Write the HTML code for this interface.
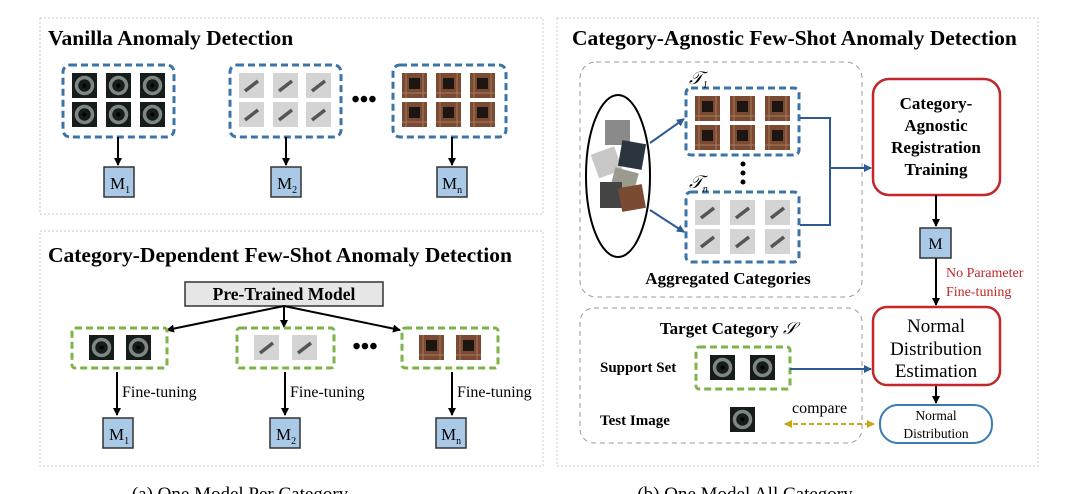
<!DOCTYPE html>
<html><head><meta charset="utf-8"><style>
html,body{margin:0;padding:0;background:#fff;width:1080px;height:494px;overflow:hidden}
text{font-family:"Liberation Serif",serif}
.b{font-weight:bold}
</style></head><body>
<svg width="1080" height="494" viewBox="0 0 1080 494" xmlns="http://www.w3.org/2000/svg">
<defs>
<marker id="ak" markerWidth="8" markerHeight="8" refX="7" refY="4" orient="auto" markerUnits="userSpaceOnUse"><path d="M0,0 L8,4 L0,8 z" fill="#000"/></marker>
<marker id="ab" markerWidth="8" markerHeight="8" refX="7" refY="4" orient="auto" markerUnits="userSpaceOnUse"><path d="M0,0 L8,4 L0,8 z" fill="#2e5a94"/></marker>
<marker id="ay" markerWidth="8" markerHeight="8" refX="7" refY="4" orient="auto-start-reverse" markerUnits="userSpaceOnUse"><path d="M0,0 L8,4 L0,8 z" fill="#c8a818"/></marker>
<g id="dk"><rect width="25" height="25" fill="#161c1c"/><circle cx="12.5" cy="12.5" r="8" fill="none" stroke="#7d8882" stroke-width="3.5"/><circle cx="12.5" cy="12.5" r="2" fill="#000"/></g>
<g id="gr"><rect width="25" height="25" fill="#d4d4d4"/><path d="M6,18 L19,8" stroke="#555" stroke-width="3.5"/></g>
<g id="br"><rect width="25" height="25" fill="#7b4a33"/><rect x="7" y="5" width="11" height="11" fill="#1c1512"/><path d="M0,20 H25 M4,0 V25 M21,0 V25" stroke="#a77a5e" stroke-width="1"/></g>
</defs>
<rect x="40" y="18" width="503" height="196" fill="none" stroke="#c8c8c8" stroke-dasharray="2,2"/>
<rect x="40" y="231" width="503" height="235" fill="none" stroke="#c8c8c8" stroke-dasharray="2,2"/>
<rect x="557" y="18" width="481" height="448" fill="none" stroke="#c8c8c8" stroke-dasharray="2,2"/>
<text x="48" y="45" class="b" font-size="21.5">Vanilla Anomaly Detection</text>
<text x="48" y="262" class="b" font-size="21.5">Category-Dependent Few-Shot Anomaly Detection</text>
<text x="572" y="45" class="b" font-size="21.5">Category-Agnostic Few-Shot Anomaly Detection</text>
<g fill="none" stroke="#3d74a8" stroke-width="3" stroke-dasharray="7,4">
<rect x="63" y="65" width="111" height="72" rx="7"/>
<rect x="230" y="65" width="111" height="72" rx="7"/>
<rect x="393" y="65" width="113" height="72" rx="7"/>
</g>
<g>
<use href="#dk" x="72" y="73"/><use href="#dk" x="106" y="73"/><use href="#dk" x="140" y="73"/>
<use href="#dk" x="72" y="102"/><use href="#dk" x="106" y="102"/><use href="#dk" x="140" y="102"/>
<use href="#gr" x="239" y="73"/><use href="#gr" x="273" y="73"/><use href="#gr" x="306" y="73"/>
<use href="#gr" x="239" y="102"/><use href="#gr" x="273" y="102"/><use href="#gr" x="306" y="102"/>
<use href="#br" x="402" y="73"/><use href="#br" x="436" y="73"/><use href="#br" x="470" y="73"/>
<use href="#br" x="402" y="102"/><use href="#br" x="436" y="102"/><use href="#br" x="470" y="102"/>
</g>
<text x="364" y="107" font-size="24" text-anchor="middle" class="b">•••</text>
<g stroke="#000" stroke-width="2" marker-end="url(#ak)">
<line x1="118" y1="137" x2="118" y2="165"/><line x1="286" y1="137" x2="286" y2="165"/><line x1="452" y1="137" x2="452" y2="165"/>
</g>
<g fill="#a9c9e6" stroke="#333" stroke-width="1.5">
<rect x="104" y="167" width="30" height="30"/><rect x="271" y="167" width="30" height="30"/><rect x="437" y="167" width="30" height="30"/>
<rect x="103" y="418" width="30" height="30"/><rect x="270" y="418" width="30" height="30"/><rect x="436" y="418" width="30" height="30"/>
</g>
<g font-size="17">
<text x="110" y="189">M<tspan font-size="10" dy="4">1</tspan></text>
<text x="277" y="189">M<tspan font-size="10" dy="4">2</tspan></text>
<text x="442" y="189">M<tspan font-size="10" dy="4">n</tspan></text>
<text x="109" y="440">M<tspan font-size="10" dy="4">1</tspan></text>
<text x="276" y="440">M<tspan font-size="10" dy="4">2</tspan></text>
<text x="441" y="440">M<tspan font-size="10" dy="4">n</tspan></text>
</g>
<rect x="185" y="282" width="198" height="24" fill="#e6e6e6" stroke="#333" stroke-width="1.5"/>
<text x="284" y="300" class="b" font-size="17.5" text-anchor="middle">Pre-Trained Model</text>
<g stroke="#000" stroke-width="2" marker-end="url(#ak)">
<line x1="284" y1="306" x2="167" y2="330"/><line x1="284" y1="306" x2="284" y2="327"/><line x1="284" y1="306" x2="400" y2="330"/>
<line x1="117" y1="372" x2="117" y2="415"/><line x1="285" y1="372" x2="285" y2="415"/><line x1="452" y1="372" x2="452" y2="415"/>
</g>
<g fill="none" stroke="#7db44a" stroke-width="3" stroke-dasharray="7,4">
<rect x="72" y="328" width="95" height="40" rx="3"/>
<rect x="237" y="328" width="97" height="40" rx="3"/>
<rect x="402" y="328" width="96" height="40" rx="3"/>
<rect x="696" y="347" width="94" height="42" rx="3"/>
</g>
<use href="#dk" x="89" y="335"/><use href="#dk" x="126" y="335"/>
<use href="#gr" x="254" y="335"/><use href="#gr" x="292" y="335"/>
<use href="#br" x="419" y="335"/><use href="#br" x="456" y="335"/>
<text x="365" y="354" font-size="24" text-anchor="middle" class="b">•••</text>
<g font-size="16"><text x="122" y="397">Fine-tuning</text><text x="290" y="397">Fine-tuning</text><text x="457" y="397">Fine-tuning</text></g>
<rect x="580" y="62" width="282" height="235" rx="16" fill="none" stroke="#9a9a9a" stroke-dasharray="5,4"/>
<rect x="580" y="308" width="282" height="135" rx="14" fill="none" stroke="#9a9a9a" stroke-dasharray="5,4"/>
<ellipse cx="618" cy="176" rx="32" ry="81" fill="none" stroke="#000" stroke-width="2"/>
<rect x="605" y="120" width="25" height="25" fill="#8a8a8a"/>
<rect x="594" y="150" width="25" height="25" fill="#c8c8c8" transform="rotate(-20 606 162)"/>
<rect x="620" y="142" width="24" height="26" fill="#2a3540" transform="rotate(10 632 155)"/>
<rect x="612" y="170" width="24" height="24" fill="#9a9a8e" transform="rotate(15 624 182)"/>
<rect x="600" y="182" width="22" height="26" fill="#444"/>
<rect x="620" y="186" width="24" height="24" fill="#7b4a33" transform="rotate(-10 632 198)"/>
<g fill="none" stroke="#3d74a8" stroke-width="3" stroke-dasharray="7,4">
<rect x="686" y="88" width="113" height="67" rx="5"/>
<rect x="686" y="192" width="113" height="70" rx="5"/>
</g>
<use href="#br" x="695" y="96"/><use href="#br" x="730" y="96"/><use href="#br" x="765" y="96"/>
<use href="#br" x="695" y="125"/><use href="#br" x="730" y="125"/><use href="#br" x="765" y="125"/>
<use href="#gr" x="695" y="200"/><use href="#gr" x="730" y="200"/><use href="#gr" x="765" y="200"/>
<use href="#gr" x="695" y="229"/><use href="#gr" x="730" y="229"/><use href="#gr" x="765" y="229"/>
<text x="689" y="84" font-size="18" font-style="italic">𝒯<tspan font-size="10" dy="4">1</tspan></text>
<text x="689" y="188" font-size="18" font-style="italic">𝒯<tspan font-size="10" dy="4">n</tspan></text>
<circle cx="743" cy="164" r="2.5"/><circle cx="743" cy="173" r="2.5"/><circle cx="743" cy="182" r="2.5"/>
<g stroke="#2e5a94" stroke-width="2" fill="none">
<line x1="650" y1="143" x2="684" y2="119" marker-end="url(#ab)"/>
<line x1="650" y1="210" x2="684" y2="232" marker-end="url(#ab)"/>
<polyline points="800,118 830,118 830,225 800,225"/>
<line x1="830" y1="168" x2="871" y2="168" marker-end="url(#ab)"/>
<line x1="790" y1="369" x2="871" y2="369" marker-end="url(#ab)"/>
</g>
<text x="728" y="284" class="b" font-size="17" text-anchor="middle">Aggregated Categories</text>
<rect x="873" y="79" width="127" height="116" rx="16" fill="none" stroke="#c0282a" stroke-width="2.5"/>
<g class="b" font-size="17" text-anchor="middle">
<text x="936" y="109">Category-</text><text x="936" y="131">Agnostic</text><text x="936" y="153">Registration</text><text x="936" y="175">Training</text>
</g>
<g stroke="#000" stroke-width="2" marker-end="url(#ak)">
<line x1="936" y1="195" x2="936" y2="226"/><line x1="936" y1="258" x2="936" y2="305"/><line x1="936" y1="385" x2="936" y2="403"/>
</g>
<rect x="920" y="228" width="31" height="30" fill="#a9c9e6" stroke="#333" stroke-width="1.5"/>
<text x="935.5" y="249" font-size="16" text-anchor="middle">M</text>
<text x="946" y="277" font-size="14" fill="#c0282a">No Parameter</text>
<text x="946" y="296" font-size="14" fill="#c0282a">Fine-tuning</text>
<rect x="873" y="307" width="127" height="78" rx="14" fill="none" stroke="#c0282a" stroke-width="2.5"/>
<g font-size="19" text-anchor="middle"><text x="936" y="332">Normal</text><text x="936" y="355">Distribution</text><text x="936" y="377">Estimation</text></g>
<rect x="880" y="405" width="112" height="38" rx="18" fill="none" stroke="#3d7ab0" stroke-width="2"/>
<g font-size="13.5" text-anchor="middle"><text x="936" y="420">Normal</text><text x="936" y="438">Distribution</text></g>
<text x="728" y="334" class="b" font-size="17" text-anchor="middle">Target Category <tspan font-weight="normal" font-style="italic">𝒮</tspan></text>
<text x="600" y="372" class="b" font-size="15">Support Set</text>
<text x="600" y="425" class="b" font-size="15">Test Image</text>
<use href="#dk" x="710" y="355"/><use href="#dk" x="750" y="355"/>
<use href="#dk" x="730" y="407"/>
<text x="792" y="413" font-size="16">compare</text>
<line x1="785" y1="424" x2="874" y2="424" stroke="#c8a818" stroke-width="2" stroke-dasharray="5,3" marker-start="url(#ay)" marker-end="url(#ay)"/>
<text x="240" y="500" font-size="19" text-anchor="middle">(a) One Model Per Category</text>
<text x="745" y="500" font-size="19" text-anchor="middle">(b) One Model All Category</text>
</svg>
</body></html>
